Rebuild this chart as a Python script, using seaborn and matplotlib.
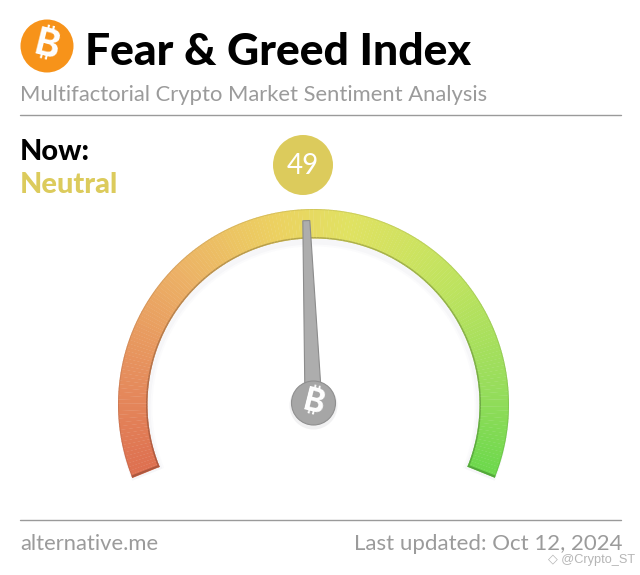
import numpy as np
import seaborn as sns
from matplotlib import pyplot as plt
from matplotlib.colors import to_rgb
from matplotlib.patches import Circle, Polygon, Wedge

sns.set_theme(style="white")
plt.rcParams['font.family'] = ['Lato', 'DejaVu Sans']

# data
index_value = 49
scale_min = 0
scale_max = 100
classification = "Neutral"
title = "Fear & Greed Index"
subtitle = "Multifactorial Crypto Market Sentiment Analysis"
now_label = "Now:"
source = "alternative.me"
updated = "Last updated: Oct 12, 2024"
watermark = "@Crypto_ST"
stop_values = [0, 12, 30, 45, 55, 72, 88, 100]
stop_colors = ["#dd6f50", "#e58a5c", "#ecb266", "#ecd261", "#e0e262", "#bfe35f", "#97dd5c", "#6cd84c"]

H = 575
START_ANGLE = 202
END_ANGLE = -22
CX, CY = 313.5, H - 404.5
R_OUT, R_IN = 195.5, 166

GREY = "#9b9b9b"
BADGE = "#dccb5c"
BTC_FONTS = ['Inter', 'Noto Sans', 'Roboto', 'Open Sans', 'Liberation Sans', 'DejaVu Sans']


def value_angle(v):
    frac = (v - scale_min) / (scale_max - scale_min)
    return START_ANGLE + frac * (END_ANGLE - START_ANGLE)


fig = plt.figure(figsize=(6.4, 5.75), dpi=100)
ax = fig.add_axes([0, 0, 1, 1])
ax.set_xlim(0, 640)
ax.set_ylim(0, H)
ax.axis("off")

# header
ax.add_patch(Circle((47, H - 46), 26.5, color="#f7931a", lw=0))
ax.text(47, H - 46, "\u20bf", color="white", fontsize=27, fontweight="bold", family=BTC_FONTS,
        rotation=-14, ha="center", va="center")
ax.text(85, H - 52, title, color="black", fontsize=32, fontweight="black", ha="left", va="center")
ax.text(20, H - 95, subtitle, color=GREY, fontsize=15.8, ha="left", va="center")
ax.plot([20, 621], [H - 115, H - 115], color="#9a9a9a", lw=1)
ax.text(20, H - 152, now_label, color="black", fontsize=20.8, fontweight="black", ha="left", va="center")
ax.text(20, H - 185, classification, color=BADGE, fontsize=20.8, fontweight="black", ha="left", va="center")

# value badge
ax.add_patch(Circle((303, H - 165), 30, color=BADGE, lw=0))
ax.text(303, H - 166, str(index_value), color="white", fontsize=20, ha="center", va="center")

# soft shadow under the gauge
for grow, alpha in zip([5, 3], [0.02, 0.03]):
    ax.add_patch(Wedge((CX, CY - 3), R_OUT, END_ANGLE, START_ANGLE, width=R_OUT - R_IN + grow,
                       color="#606080", alpha=alpha, lw=0))

# gauge band
vals = np.arange(scale_min, scale_max + 0.5, 0.5)
rgb = np.array([to_rgb(c) for c in sns.color_palette(stop_colors)])
for a, b in zip(vals[:-1], vals[1:]):
    mid = (a + b) / 2
    col = [np.interp(mid, stop_values, rgb[:, i]) for i in range(3)]
    ax.add_patch(Wedge((CX, CY), R_OUT, value_angle(b), value_angle(a) + 0.1, width=R_OUT - R_IN,
                       facecolor=col, edgecolor="none", lw=0))
    dark = [c * 0.72 for c in col]
    ax.add_patch(Wedge((CX, CY), R_IN + 1.5, value_angle(b), value_angle(a) + 0.1, width=1.5,
                       facecolor=dark, edgecolor="none", lw=0, alpha=0.8))
    ax.add_patch(Wedge((CX, CY), R_OUT, value_angle(b), value_angle(a) + 0.1, width=1,
                       facecolor=dark, edgecolor="none", lw=0, alpha=0.3))

# darker ends of the band
for v0, v1, c in [(scale_min, scale_min + 0.3, stop_colors[0]), (scale_max - 0.3, scale_max, stop_colors[-1])]:
    end_col = [x * 0.78 for x in to_rgb(c)]
    ax.add_patch(Wedge((CX, CY), R_OUT, value_angle(v1), value_angle(v0), width=R_OUT - R_IN,
                       facecolor=end_col, edgecolor="none", lw=0))

# needle
theta = np.radians(value_angle(index_value))
ux, uy = np.cos(theta), np.sin(theta)
nx, ny = -uy, ux
tip = (CX + 184 * ux, CY + 184 * uy)
pts = [(tip[0] + 3.5 * nx, tip[1] + 3.5 * ny), (tip[0] - 3.5 * nx, tip[1] - 3.5 * ny),
       (CX - 8.5 * nx, CY - 8.5 * ny), (CX + 8.5 * nx, CY + 8.5 * ny)]
ax.add_patch(Polygon(pts, closed=True, facecolor="#adadad", edgecolor="#8c8c8c", lw=0.8))

# hub
ax.add_patch(Circle((CX, CY - 1), 24, color="#505060", alpha=0.08, lw=0))
ax.add_patch(Circle((CX, CY + 1.5), 22, facecolor="#a6a6a6", edgecolor="#8f8f8f", lw=0.8))
ax.text(CX, CY + 1.5, "\u20bf", color="white", fontsize=23, fontweight="bold", family=BTC_FONTS,
        rotation=-14, ha="center", va="center")

# footer
ax.plot([20, 621], [H - 520, H - 520], color="#9a9a9a", lw=1)
ax.text(20, H - 544, source, color=GREY, fontsize=15.8, ha="left", va="center")
ax.text(623, H - 544, updated, color=GREY, fontsize=16, ha="right", va="center")
ax.text(635, H - 560, "\u25c7 " + watermark, color="#b5b5b5", fontsize=9.2, ha="right", va="center",
        family=["Liberation Sans", "DejaVu Sans"])

fig.savefig("out.png", dpi=100, facecolor="white")
